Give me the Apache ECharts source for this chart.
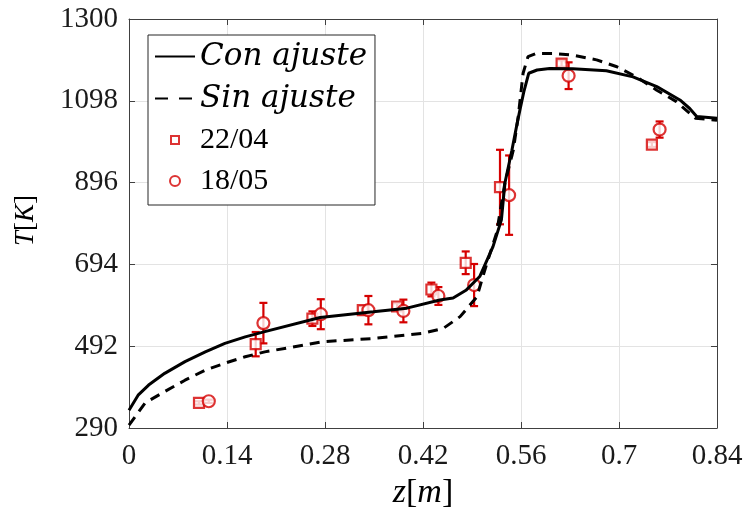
<!DOCTYPE html>
<html>
<head>
<meta charset="utf-8">
<script src="https://cdn.jsdelivr.net/npm/echarts@6/dist/echarts.min.js"></script>
<style>html,body{margin:0;padding:0;background:#fff}#main{width:747px;height:525px}</style>
</head>
<body>
<div id="main"></div>
<script>
// perfiles de temperatura: modelo con / sin ajuste
var zCon = [0, 0.013, 0.028, 0.051, 0.08, 0.109, 0.137, 0.166, 0.194, 0.273, 0.349, 0.397, 0.444, 0.463, 0.482, 0.501, 0.52, 0.532, 0.537, 0.547, 0.554, 0.559, 0.564, 0.571, 0.583, 0.601, 0.634, 0.682, 0.72, 0.754, 0.787, 0.801, 0.811, 0.84];
var tCon = [334, 371, 396, 425, 454, 478, 499, 515, 528, 563, 577, 586, 606, 611, 631, 664, 738, 804, 895, 976, 1038, 1080, 1120, 1166, 1174, 1178, 1177, 1172, 1157, 1133, 1100, 1079, 1059, 1055];
var zSin = [0, 0.023, 0.051, 0.08, 0.109, 0.137, 0.166, 0.194, 0.277, 0.349, 0.42, 0.449, 0.473, 0.497, 0.509, 0.525, 0.537, 0.549, 0.556, 0.563, 0.570, 0.582, 0.606, 0.634, 0.668, 0.697, 0.725, 0.754, 0.782, 0.809, 0.84];
var tSin = [297, 352, 380, 408, 433, 450, 466, 478, 503, 511, 524, 536, 565, 614, 684, 771, 895, 976, 1059, 1166, 1207, 1215, 1215, 1211, 1199, 1182, 1157, 1124, 1096, 1055, 1050];

// medidas
var z2204 = [0.100, 0.181, 0.262, 0.334, 0.383, 0.432, 0.481, 0.530, 0.618, 0.747];
var t2204 = [352, 497, 560, 581, 590, 632, 698, 885, 1190, 990];
var e2204 = [4, 30, 18, 10, 8, 17, 28, 92, 8, 6];
var z1805 = [0.114, 0.192, 0.274, 0.342, 0.392, 0.442, 0.493, 0.543, 0.628, 0.758];
var t1805 = [356, 549, 571, 581, 579, 616, 643, 865, 1160, 1027];
var e1805 = [4, 50, 37, 35, 28, 22, 52, 98, 33, 20];

var xTicks = [0, 0.14, 0.28, 0.42, 0.56, 0.7, 0.84];
var yTicks = [290, 492, 694, 896, 1098, 1300];

var rojo = '#d50000';
var fuente = 'Liberation Serif';
var cursiva = 'DejaVu Serif';

function pares(a, b) {
    var r = [];
    for (var i = 0; i < a.length; i++) r.push([a[i], b[i]]);
    return r;
}
function barras(a, b, e) {
    var r = [];
    for (var i = 0; i < a.length; i++) r.push([a[i], b[i] - e[i], b[i] + e[i]]);
    return r;
}
function dibujaError(params, api) {
    var x = api.value(0);
    var p1 = api.coord([x, api.value(2)]);
    var p2 = api.coord([x, api.value(1)]);
    var w = 4;
    var st = { stroke: rojo, lineWidth: 2.2, fill: null };
    return {
        type: 'group',
        children: [
            { type: 'line', shape: { x1: p1[0], y1: p1[1], x2: p2[0], y2: p2[1] }, style: st },
            { type: 'line', shape: { x1: p1[0] - w, y1: p1[1], x2: p1[0] + w, y2: p1[1] }, style: st },
            { type: 'line', shape: { x1: p2[0] - w, y1: p2[1], x2: p2[0] + w, y2: p2[1] }, style: st }
        ]
    };
}

var ejeColor = '#404040';
var lblX = { color: '#1a1a1a', fontFamily: fuente, fontSize: 29, margin: 14,
    customValues: xTicks, formatter: function (v) { return String(+(+v).toFixed(2)); } };
var lblY = { color: '#1a1a1a', fontFamily: fuente, fontSize: 29, margin: 11, customValues: yTicks,
    formatter: function (v) { return String(v); } };

// iconos de la leyenda (los puntos extremos fijan la caja de 40x10)
var iconoCuadro = 'path://M0,0L0,0M40,10L40,10M16,1h8v8h-8z';
var sinMarca = { color: 'rgba(0,0,0,0)', borderWidth: 0 };

var myChart = echarts.init(document.getElementById('main'));
var option = {
    backgroundColor: '#fff',
    animation: false,
    grid: { left: 129, right: 30, top: 19, bottom: 97 },
    legend: {
        orient: 'vertical',
        left: 148, top: 35,
        padding: [6, 8, 9, 6],
        itemGap: 11,
        itemWidth: 40,
        itemHeight: 10,
        itemTextGap: 6,
        backgroundColor: '#fff',
        borderColor: '#262626',
        borderWidth: 1,
        data: [
            { name: 'Con ajuste', itemStyle: sinMarca },
            { name: 'Sin ajuste', itemStyle: sinMarca, lineStyle: { type: [13, 11] } },
            { name: '22/04', icon: iconoCuadro },
            { name: '18/05' }
        ],
        formatter: function (n) { return n.indexOf('/') > 0 ? n : '{i|' + n + '}'; },
        textStyle: {
            color: '#000', fontFamily: fuente, fontSize: 30, lineHeight: 30,
            rich: { i: { fontStyle: 'italic', fontFamily: cursiva, fontSize: 31, lineHeight: 30, color: '#000' } }
        }
    },
    xAxis: [{
        type: 'value', position: 'bottom', min: 0, max: 0.84, interval: 0.14,
        name: '{i|z}[{i|m}]', nameLocation: 'middle', nameGap: 46,
        nameTextStyle: { color: '#000', fontFamily: fuente, fontSize: 34,
            rich: { i: { fontStyle: 'italic', fontFamily: fuente, fontSize: 34, color: '#000' } } },
        axisLine: { show: true, lineStyle: { color: ejeColor, width: 1 } },
        axisTick: { show: true, inside: true, length: 6, customValues: xTicks, lineStyle: { color: ejeColor } },
        axisLabel: lblX,
        splitLine: { show: true, lineStyle: { color: '#e3e3e3', width: 1 } }
    }, {
        type: 'value', position: 'top', min: 0, max: 0.84, interval: 0.14,
        axisLine: { show: true, onZero: false, lineStyle: { color: ejeColor, width: 1 } },
        axisTick: { show: true, inside: true, length: 6, customValues: xTicks, lineStyle: { color: ejeColor } },
        axisLabel: { show: false },
        splitLine: { show: false }
    }],
    yAxis: [{
        type: 'value', position: 'left', min: 290, max: 1300,
        name: '{i|T}[{i|K}]', nameLocation: 'middle', nameGap: 90,
        nameTextStyle: { color: '#000', fontFamily: fuente, fontSize: 27, padding: [0, 0, 0, 6],
            rich: { i: { fontStyle: 'italic', fontFamily: fuente, fontSize: 27, color: '#000' } } },
        axisLine: { show: true, lineStyle: { color: ejeColor, width: 1 } },
        axisTick: { show: true, inside: true, length: 6, customValues: yTicks, lineStyle: { color: ejeColor } },
        axisLabel: lblY,
        splitLine: { show: true, lineStyle: { color: '#e3e3e3', width: 1 } }
    }, {
        type: 'value', position: 'right', min: 290, max: 1300,
        axisLine: { show: true, onZero: false, lineStyle: { color: ejeColor, width: 1 } },
        axisTick: { show: true, inside: true, length: 6, customValues: yTicks, lineStyle: { color: ejeColor } },
        axisLabel: { show: false, customValues: yTicks },
        splitLine: { show: false }
    }],
    series: [{
        name: 'Con ajuste', type: 'line', data: pares(zCon, tCon),
        symbol: 'none', lineStyle: { color: '#000', width: 3 }, itemStyle: { color: '#000' }
    }, {
        name: 'Sin ajuste', type: 'line', data: pares(zSin, tSin),
        symbol: 'none', lineStyle: { color: '#000', width: 3, type: [10, 7] }, itemStyle: { color: '#000' }
    }, {
        name: 'err2204', type: 'custom', data: barras(z2204, t2204, e2204),
        renderItem: dibujaError, encode: { x: 0, y: [1, 2] }
    }, {
        name: 'err1805', type: 'custom', data: barras(z1805, t1805, e1805),
        renderItem: dibujaError, encode: { x: 0, y: [1, 2] }
    }, {
        name: '22/04', type: 'scatter', data: pares(z2204, t2204),
        symbol: 'rect', symbolSize: 10,
        itemStyle: { color: '#fff', borderColor: rojo, borderWidth: 2.2 }
    }, {
        name: '18/05', type: 'scatter', data: pares(z1805, t1805),
        symbol: 'circle', symbolSize: 12,
        itemStyle: { color: '#fff', borderColor: rojo, borderWidth: 2.2 }
    }]
};
myChart.setOption(option);
</script>
</body>
</html>
